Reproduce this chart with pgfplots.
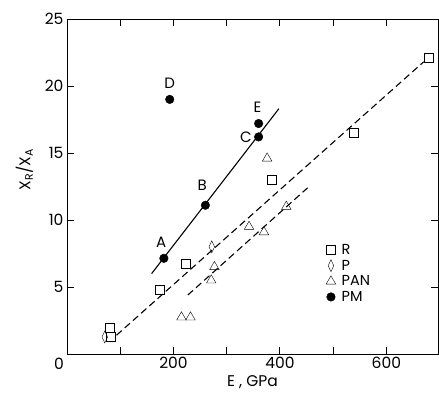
\documentclass[border=0pt]{standalone}
\usepackage{pgfplots}
\pgfplotsset{compat=1.18}
\usepackage{fontspec}
\setmainfont{Poppins}
\begin{document}
\begin{tikzpicture}
\begin{axis}[scale only axis, width=371pt, height=335pt,
  xmin=0, xmax=697, ymin=0, ymax=25,
  xtick={0,100,...,700}, xticklabels={,,200,,400,,600,},
  ytick={5,10,...,25},
  tick align=inside, major tick length=7pt,
  tick style={black, line width=0.9pt},
  axis line style={line width=0.9pt},
  /pgf/number format/assume math mode=true,
  tick label style={font=\fontsize{15.5}{17}\selectfont},
  label style={font=\fontsize{15.5}{17}\selectfont},
  xlabel={E , GPa}, ylabel={X\textsubscript{R}/X\textsubscript{A}},
  ylabel style={at={(ticklabel cs:0.55)}, yshift=5pt},
  legend style={draw=none, fill=none, at={(rel axis cs:0.69,0.34)}, anchor=north west,
    font=\fontsize{14.5}{16}\selectfont, row sep=0pt},
  legend cell align=left]
\addplot[only marks, mark=square, mark size=4.5pt, black] coordinates {
(81,1.94) (82,1.27) (174,4.78) (223,6.77) (385,13.0) (538,16.5) (679,22.1)
}; \addlegendentry{\hspace{4pt}R}
\addplot[only marks, mark=diamond, mark size=6pt, mark options={xscale=0.62}, black] coordinates {
(71,1.27) (272,8.0)
}; \addlegendentry{\hspace{4pt}P}
\addplot[only marks, mark=triangle, mark size=5.5pt, black] coordinates {
(215,2.74) (232,2.74) (271,5.5) (277,6.5) (342,9.5) (370,9.1) (376,14.6) (412,11.0)
}; \addlegendentry{\hspace{4pt}PAN}
\addplot[only marks, mark=*, mark size=4.3pt, black] coordinates {
(182,7.14) (260,11.1) (360,16.2) (360,17.2) (193,19.0)
}; \addlegendentry{\hspace{4pt}PM}
% fitted lines
\addplot[forget plot, black, line width=1.1pt] coordinates {(159,6.0) (398,18.3)};
\addplot[forget plot, black, line width=1.1pt, dash pattern=on 7pt off 4pt] coordinates {(93,1.4) (670,21.8)};
\addplot[forget plot, black, line width=1.1pt, dash pattern=on 7pt off 4pt] coordinates {(227,4.4) (452,12.4)};
\node[font=\fontsize{15}{17}\selectfont] at (axis cs:177,8.3) {A};
\node[font=\fontsize{15}{17}\selectfont] at (axis cs:254,12.6) {B};
\node[font=\fontsize{15}{17}\selectfont] at (axis cs:336,16.2) {C};
\node[font=\fontsize{15}{17}\selectfont] at (axis cs:358,18.4) {E};
\node[font=\fontsize{15}{17}\selectfont] at (axis cs:193,20.2) {D};
% tick marks on all four sides
\pgfplotsinvokeforeach{100,200,300,400,500,600}{
  \draw[line width=0.9pt] (axis cs:#1,0) -- ([yshift=7pt]axis cs:#1,0);
  \draw[line width=0.9pt] (axis cs:#1,25) -- ([yshift=-7pt]axis cs:#1,25);
}
\pgfplotsinvokeforeach{5,10,15,20}{
  \draw[line width=0.9pt] (axis cs:0,#1) -- ([xshift=7pt]axis cs:0,#1);
  \draw[line width=0.9pt] (axis cs:697,#1) -- ([xshift=-7pt]axis cs:697,#1);
}
\end{axis}
\node[anchor=north east, font=\fontsize{15.5}{17}\selectfont, inner sep=0pt] at ([xshift=-3pt,yshift=-4pt]current axis.south west) {0};
\pgfresetboundingbox
\path[use as bounding box] ([xshift=-67pt,yshift=-46pt]current axis.south west) rectangle ([xshift=1pt,yshift=19pt]current axis.north east);
\end{tikzpicture}
\end{document}
